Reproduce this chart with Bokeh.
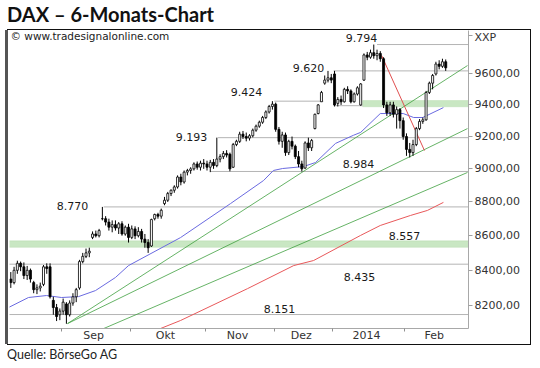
import math
from bokeh.plotting import figure
from bokeh.layouts import column
from bokeh.models import (Range1d, FixedTicker, CustomJSTickFormatter, Label, Div,
                          BoxAnnotation, ColumnDataSource)
from bokeh.core.properties import value
from bokeh.embed import file_html
from bokeh.resources import INLINE

# ---------------- data (trading-day index 0 .. 133, Aug 2013 - Feb 2014) ----------------
bar_open = [
    8350, 8330, 8400, 8440, 8420, 8370, 8400, 8330, 8290, 8300, 8320, 8420, 8420, 8230, 8190, 8150,
    8170, 8210, 8150, 8215, 8250, 8300, 8450, 8480, 8500, 8590, 8610, 8600, 8700, 8700, 8680, 8650,
    8665, 8645, 8670, 8610, 8650,
    8590, 8640, 8600, 8625, 8580, 8560, 8540, 8700, 8725, 8715, 8790, 8810, 8850, 8870, 8890, 8950,
    8920, 8980, 8990, 9000, 9030, 9010, 9035,
    9030, 9010, 9040, 9020, 9060, 9075, 9095, 9090, 9010, 9150, 9170, 9215, 9200, 9190, 9205, 9240,
    9265, 9290, 9320, 9355, 9390,
    9405, 9245, 9170, 9210, 9100, 9170, 9140, 9075, 9030, 9005, 9160, 9130, 9250, 9345, 9420, 9540,
    9560, 9575,
    9600, 9410, 9435, 9420, 9500, 9490, 9420, 9470, 9400, 9560, 9725, 9710, 9740, 9720, 9735, 9700,
    9400, 9350, 9400, 9340, 9370, 9300,
    9200, 9120, 9100, 9150, 9250, 9295, 9305, 9480, 9540, 9600, 9665, 9650, 9680,
]
bar_high = [
    8390, 8420, 8455, 8450, 8445, 8425, 8410, 8340, 8320, 8330, 8430, 8440, 8440, 8250, 8210, 8185,
    8240, 8220, 8230, 8270, 8300, 8460, 8500, 8525, 8530, 8625, 8630, 8640, 8770, 8715, 8700, 8690,
    8690, 8680, 8685, 8660, 8670,
    8660, 8655, 8650, 8640, 8610, 8580, 8700, 8730, 8735, 8760, 8830, 8860, 8875, 8900, 8960, 8970,
    8990, 9000, 9010, 9040, 9045, 9050, 9060,
    9050, 9055, 9060, 9193, 9090, 9110, 9115, 9100, 9160, 9180, 9230, 9235, 9225, 9215, 9250, 9275,
    9300, 9330, 9365, 9400, 9424,
    9415, 9260, 9230, 9225, 9180, 9200, 9150, 9110, 9050, 9170, 9193, 9185, 9345, 9405, 9490, 9590,
    9620, 9600,
    9620, 9450, 9460, 9510, 9520, 9500, 9480, 9520, 9540, 9735, 9745, 9760, 9794, 9760, 9750, 9710,
    9420, 9420, 9420, 9390, 9380, 9320,
    9220, 9160, 9180, 9260, 9310, 9320, 9490, 9550, 9600, 9680, 9690, 9700, 9695,
]
bar_low = [
    8300, 8320, 8380, 8395, 8350, 8345, 8330, 8270, 8265, 8280, 8310, 8380, 8240, 8150, 8115, 8120,
    8150, 8100, 8140, 8200, 8220, 8290, 8440, 8470, 8475, 8580, 8590, 8590, 8690, 8660, 8630, 8620,
    8630, 8610, 8600, 8600, 8560,
    8580, 8580, 8590, 8560, 8530, 8500, 8535, 8690, 8700, 8700, 8780, 8800, 8835, 8855, 8880, 8900,
    8910, 8960, 8970, 8990, 8995, 8990, 9000,
    8990, 8980, 9000, 9010, 9040, 9060, 9070, 8985, 9005, 9140, 9160, 9185, 9170, 9175, 9195, 9230,
    9255, 9280, 9310, 9345, 9370,
    9230, 9150, 9130, 9080, 9085, 9120, 9060, 9010, 8984, 9000, 9110, 9110, 9245, 9340, 9420, 9530,
    9545, 9540,
    9390, 9390, 9400, 9415, 9470, 9410, 9415, 9460, 9395, 9555, 9690, 9700, 9700, 9690, 9680, 9380,
    9330, 9330, 9320, 9250, 9250, 9180,
    9080, 9070, 9080, 9140, 9240, 9280, 9300, 9470, 9500, 9590, 9630, 9640, 9620,
]
bar_close = [
    8330, 8400, 8440, 8420, 8370, 8400, 8350, 8290, 8300, 8310, 8420, 8410, 8250, 8190, 8140, 8170,
    8220, 8150, 8215, 8250, 8290, 8450, 8480, 8500, 8510, 8610, 8600, 8630, 8700, 8680, 8650, 8665,
    8645, 8670, 8610, 8650, 8590,
    8640, 8600, 8625, 8580, 8560, 8530, 8695, 8725, 8715, 8750, 8810, 8850, 8870, 8890, 8950, 8920,
    8980, 8990, 9000, 9030, 9010, 9035, 9030,
    9010, 9040, 9020, 9060, 9075, 9095, 9085, 9000, 9150, 9170, 9215, 9200, 9190, 9205, 9240, 9265,
    9290, 9320, 9355, 9390, 9405,
    9245, 9170, 9210, 9100, 9170, 9140, 9075, 9030, 9000, 9160, 9130, 9175, 9340, 9400, 9480, 9560,
    9575, 9560,
    9400, 9435, 9420, 9500, 9490, 9420, 9470, 9510, 9535, 9725, 9710, 9740, 9720, 9735, 9700, 9400,
    9350, 9400, 9340, 9370, 9300, 9200,
    9120, 9100, 9150, 9250, 9295, 9305, 9480, 9540, 9590, 9665, 9650, 9680, 9640,
]
bar_idx = list(range(len(bar_close)))

# moving averages (index, value)
ma_blue_idx = [-0.7, 5.4, 10.9, 15.5, 20.7, 25.9, 32.0, 36.0, 51.9, 67.2, 77.3, 80.3, 83.1,
               89.5, 93.2, 99.3, 104.8, 107.0, 113.0, 120.0, 123.2, 126.0, 132.3]
ma_blue_val = [8190, 8246, 8257, 8246, 8251, 8285, 8359, 8427, 8589, 8790, 8929, 8990, 9002,
               9014, 9039, 9157, 9208, 9226, 9345, 9345, 9320, 9320, 9383]
ma_red_idx = [44.0, 51.9, 72.4, 86.5, 92.6, 106.9, 113.0, 122.2, 127.4, 132.3]
ma_red_val = [8061, 8118, 8296, 8427, 8456, 8601, 8660, 8719, 8749, 8797]

# trend lines (start idx, start value, end idx, end value)
fan_x0 = [17.34, 17.34, 24.4]
fan_y0 = [8101, 8101, 8043]
fan_x1 = [139.66, 139.66, 139.66]
fan_y1 = [9655, 9250, 8978]
down_x0, down_y0, down_x1, down_y1 = [113.4], [9721], [126.5], [9113]

# horizontal support / resistance levels
level_values = [9794, 9620, 9424, 9193, 8984, 8770, 8435, 8151, 9395]
level_from = [112.0, 98.7, 80.6, 63.3, 61.0, 28.4, -1.0, -1.0, 98.7]
level_to = [141.0, 141.0, 95.6, 141.0, 141.0, 141.0, 141.0, 141.0, 107.6]
level_texts = ["9.794", "9.620", "9.424", "9.193", "8.984", "8.770", "8.557", "8.435", "8.151"]
level_text_x = [107.25, 91.04, 72.08, 55.26, 106.3, 18.87, 120.4, 106.6, 82.2]
level_text_y = [9841, 9642, 9480, 9200, 9027, 8778, 8601, 8364, 8184]

# green support zones
zone_from = [-1.0, 107.6]
zone_lo = [8532, 9388]
zone_hi = [8570, 9428]

month_labels = ["Sep", "Okt", "Nov", "Dez", "2014", "Feb"]
month_bounds = [15.5, 36.5, 59.5, 80.5, 98.5, 120.5]
month_label_pos = [25.3, 47.3, 69.3, 88.8, 108.8, 129.5]
y_ticks = [8200, 8400, 8600, 8800, 9000, 9200, 9400, 9600]
unit_tick = 9855          # position of the "XXP" caption on the price axis
unit_text = "XXP"

# ---------------- layout ----------------
BOX_W = 522                      # outer chart box width
FRAME_W, FRAME_H = 459, 298      # plot area
X_LO, X_HI = -0.40, 139.97
Y_LO, Y_HI = 8074, 9888


def cx(px):
    return X_LO + px / FRAME_W * (X_HI - X_LO)


def cy(py):
    return math.exp(math.log(Y_LO) + (FRAME_H - py) / FRAME_H
                    * (math.log(Y_HI) - math.log(Y_LO)))


p = figure(frame_width=FRAME_W, frame_height=FRAME_H, output_backend="svg", toolbar_location=None,
           y_axis_type="log", y_axis_location="right",
           x_range=Range1d(X_LO, X_HI), y_range=Range1d(Y_LO, Y_HI),
           min_border_left=1, min_border_right=BOX_W - FRAME_W - 1,
           min_border_top=0, min_border_bottom=10, margin=(0, 0, 0, 8),
           styles={"box-shadow": "-3px 0 0 0 #555555, 0 0 0 1px #111111"})
p.title.visible = False
p.outline_line_color = None
p.xgrid.visible = False
p.ygrid.visible = False
p.background_fill_color = "white"
p.border_fill_color = "white"

# axes
xa = p.xaxis[0]
xa.ticker = FixedTicker(ticks=month_label_pos, minor_ticks=month_bounds)
xa.formatter = CustomJSTickFormatter(args=dict(pos=month_label_pos, labels=month_labels), code="""
    for (let i = 0; i < pos.length; i++) { if (Math.abs(pos[i] - tick) < 0.01) return labels[i]; }
    return "";
""")
xa.axis_line_color = "#a8a8a8"
xa.major_tick_line_color = None
xa.major_tick_out = 0
xa.major_tick_in = 0
xa.minor_tick_out = 3
xa.minor_tick_in = 0
xa.minor_tick_line_color = "#909090"
xa.major_label_standoff = -3
xa.major_label_text_font = "DejaVu Sans"
xa.major_label_text_font_size = "11px"
xa.major_label_text_color = "#333333"

ya = p.yaxis[0]
ya.ticker = FixedTicker(ticks=y_ticks + [unit_tick])
ya.formatter = CustomJSTickFormatter(args=dict(unit_tick=unit_tick, unit_text=unit_text), code="""
    if (Math.abs(tick - unit_tick) < 1) return unit_text;
    return tick.toFixed(2).replace('.', ',');
""")
ya.axis_line_color = "#a8a8a8"
ya.major_tick_out = 4
ya.major_tick_in = 0
ya.major_tick_line_color = "#a0a0a0"
ya.minor_tick_line_color = None
ya.major_label_standoff = 2
ya.major_label_text_font = "DejaVu Sans"
ya.major_label_text_font_size = "11px"
ya.major_label_text_color = "#333333"

# green zones
for f, lo, hi in zip(zone_from, zone_lo, zone_hi):
    p.add_layout(BoxAnnotation(left=f, bottom=lo, top=hi, fill_color="#c9e7c3", fill_alpha=1.0,
                               line_color="#a3d299", line_width=1, level="underlay"))

# horizontal levels
p.segment(x0=level_from, y0=level_values, x1=level_to, y1=level_values,
          line_color="#b4b4b4", line_width=1)

# moving averages and trend lines
p.line(ma_red_idx, ma_red_val, line_color="#e8585a", line_width=1)
p.segment(x0=fan_x0, y0=fan_y0, x1=fan_x1, y1=fan_y1, line_color="#3f9f3f", line_width=0.8)
p.line(ma_blue_idx, ma_blue_val, line_color="#6a6ae0", line_width=1)
p.segment(x0=down_x0, y0=down_y0, x1=down_x1, y1=down_y1, line_color="#e05050", line_width=1)

# candles
src = ColumnDataSource(dict(
    x=bar_idx, o=bar_open, h=bar_high, l=bar_low, c=bar_close,
    top=[max(o, c) for o, c in zip(bar_open, bar_close)],
    bot=[min(o, c) for o, c in zip(bar_open, bar_close)],
    fill=["white" if c >= o else "black" for o, c in zip(bar_open, bar_close)],
))
p.segment(x0="x", y0="l", x1="x", y1="h", source=src, line_color="black", line_width=1)
p.vbar(x="x", width=0.62, top="top", bottom="bot", source=src,
       fill_color="fill", line_color="black", line_width=0.8)

# level texts
p.text(x=level_text_x, y=level_text_y, text=level_texts, text_font=value("DejaVu Sans"),
       text_font_size="11px", text_color="#1a1a1a", text_align="center", text_baseline="middle")

# copyright note inside the plot area
p.add_layout(Label(x=cx(1), y=cy(5), text="© www.tradesignalonline.com", text_font="DejaVu Sans",
                   text_font_size="10.5px", text_color="#222222",
                   text_baseline="middle", text_align="left"))

title_div = Div(text='<div style="font-family:Lato;font-weight:bold;font-size:20px;'
                     'line-height:20px;padding:4px 0 0 7px;margin:0;color:#111;white-space:nowrap">'
                     'DAX – 6-Monats-Chart</div>',
                width=540, height=30, margin=(0, 0, 0, 0))
src_div = Div(text='<div style="font-family:Lato;font-size:12.5px;line-height:14px;'
                   'padding:4px 0 0 7px;margin:0;color:#222;white-space:nowrap">'
                   'Quelle: BörseGo AG</div>',
              width=540, height=22, margin=(0, 0, 0, 0))

layout = column(title_div, p, src_div, spacing=0, margin=(0, 0, 0, 0))
open("out.html", "w").write(file_html(layout, INLINE))
